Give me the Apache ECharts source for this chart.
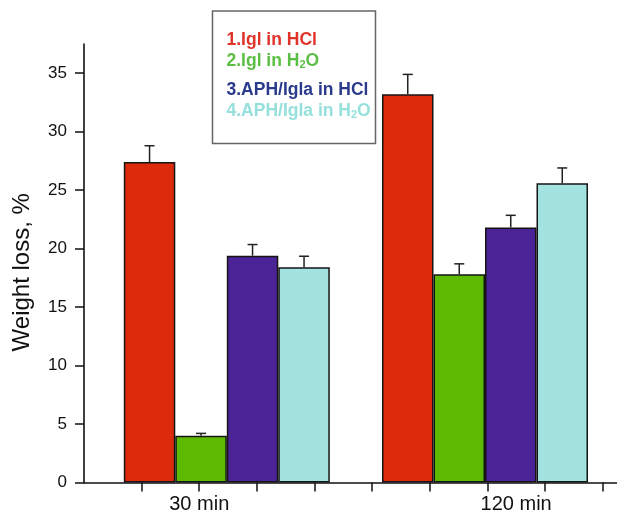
<!DOCTYPE html>
<html>
<head>
<meta charset="utf-8">
<script src="https://cdn.jsdelivr.net/npm/echarts@6/dist/echarts.min.js"></script>
<style>
html,body{margin:0;padding:0;background:#fff;}
#chart{width:617px;height:515px;}
</style>
</head>
<body>
<div id="chart"></div>
<script>
// ---- data ----
var categories = ['30 min', '120 min'];
var seriesNames = ['1.Igl in HCl', '2.Igl in H2O', '3.APH/Igla in HCl', '4.APH/Igla in H2O'];
var iglHCl = [27.4, 33.2];
var iglHCl_err = [1.4, 1.7];
var iglH2O = [4.0, 17.8];
var iglH2O_err = [0.2, 0.9];
var aphHCl = [19.4, 21.8];
var aphHCl_err = [0.95, 1.05];
var aphH2O = [18.4, 25.6];
var aphH2O_err = [0.95, 1.3];
var yMajorTicks = [0, 5, 10, 15, 20, 25, 30, 35];
var yMinorTicks = [2.5, 7.5, 12.5, 17.5, 22.5, 27.5, 32.5, 37.5];
var xTicks = [1, 2, 3, 4, 5, 6, 7, 8, 9];
var xLabelPos = [2, 7.5];

// ---- styles ----
var FONT = "'Liberation Sans', Arial, Helvetica, sans-serif";
var barColors = ['#dd2a0c', '#5eba00', '#4a2396', '#a2e3e0'];
var legendColors = ['#e0332a', '#5cbf45', '#2a3a8c', '#95e0dc'];
var BAR_W = 51.5;
var AXIS_COLOR = '#111';

var values = [iglHCl, iglH2O, aphHCl, aphH2O];
var errors = [iglHCl_err, iglH2O_err, aphHCl_err, aphH2O_err];

function legendLabel(name) {
  if (name.indexOf('H2O') >= 0) {
    var parts = name.split('H2O');
    return '{a|' + parts[0] + 'H}{s|2}{a|O}';
  }
  return '{a|' + name + '}';
}

var series = [];
values.forEach(function (vals, i) {
  series.push({
    name: seriesNames[i],
    type: 'bar',
    xAxisIndex: 1,
    yAxisIndex: 2,
    data: vals,
    barWidth: BAR_W,
    barGap: '0%',
    itemStyle: { color: barColors[i], borderColor: '#151515', borderWidth: 1.5 },
    z: 2
  });
});
values.forEach(function (vals, i) {
  series.push({
    type: 'custom',
    xAxisIndex: 1,
    yAxisIndex: 2,
    z: 3,
    silent: true,
    data: vals.map(function (v, k) { return [k, v, errors[i][k]]; }),
    renderItem: function (params, api) {
      var ci = api.value(0), v = api.value(1), e = api.value(2);
      var p = api.coord([ci, v]);
      var t = api.coord([ci, v + e]);
      var x = p[0] + (i - 1.5) * BAR_W;
      var st = { stroke: '#222', lineWidth: 1.5 };
      return {
        type: 'group',
        children: [
          { type: 'line', shape: { x1: x, y1: p[1], x2: x, y2: t[1] }, style: st },
          { type: 'line', shape: { x1: x - 5, y1: t[1], x2: x + 5, y2: t[1] }, style: st }
        ]
      };
    }
  });
});

var richStyle = {
  a: { fontSize: 17.5, fontWeight: 'bold', fontFamily: FONT },
  s: { fontSize: 11, fontWeight: 'bold', fontFamily: FONT, verticalAlign: 'bottom', padding: [8, 0, 0, 0] }
};

function makeLegend(idxs, top) {
  return {
    orient: 'vertical',
    left: 221.5,
    top: top,
    padding: 0,
    itemGap: 2.5,
    itemWidth: 0,
    itemHeight: 10,
    icon: 'none',
    selectedMode: false,
    formatter: legendLabel,
    textStyle: { lineHeight: 18, rich: richStyle },
    data: idxs.map(function (i) {
      return { name: seriesNames[i], icon: 'none', textStyle: { color: legendColors[i] } };
    })
  };
}

var option = {
  backgroundColor: '#fff',
  animation: false,
  textStyle: { fontFamily: FONT },
  legend: [makeLegend([0, 1], 31.5), makeLegend([2, 3], 81.5)],
  graphic: [{
    type: 'rect',
    shape: { x: 212.5, y: 11, width: 163, height: 132.5 },
    style: { fill: 'none', stroke: '#666', lineWidth: 1.5 },
    z: 10
  }],
  grid: [
    { left: 84, right: 0, top: 44, bottom: 32.5 },
    { left: 97.7, right: 2.9, top: 44, bottom: 32.5 }
  ],
  xAxis: [
    {
      type: 'value', gridIndex: 0, min: 0, max: 9.25,
      axisLine: { show: true, lineStyle: { color: AXIS_COLOR, width: 1.6 } },
      axisTick: { show: true, length: 9, customValues: xTicks, lineStyle: { color: AXIS_COLOR, width: 1.5 } },
      axisLabel: {
        show: true, customValues: xLabelPos, margin: 12, fontSize: 20, color: '#111', fontFamily: FONT,
        formatter: function (v) { return v < 5 ? categories[0] : categories[1]; }
      },
      splitLine: { show: false }
    },
    {
      type: 'category', gridIndex: 1, data: categories, show: false
    }
  ],
  yAxis: [
    {
      type: 'value', gridIndex: 0, min: 0, max: 37.5,
      name: 'Weight loss, %', nameLocation: 'middle', nameGap: 50,
      nameTextStyle: { fontSize: 24, color: '#111', fontFamily: FONT, padding: [0, 18, 0, 0] },
      axisLine: { show: true, lineStyle: { color: AXIS_COLOR, width: 1.6 } },
      axisTick: { show: true, length: 9, customValues: yMajorTicks, lineStyle: { color: AXIS_COLOR, width: 1.5 } },
      axisLabel: { show: true, customValues: yMajorTicks, margin: 17, fontSize: 17, color: '#111', fontFamily: FONT },
      splitLine: { show: false }
    },
    {
      type: 'value', gridIndex: 0, min: 0, max: 37.5,
      axisLine: { show: false },
      axisTick: { show: true, length: 5, customValues: yMinorTicks, lineStyle: { color: AXIS_COLOR, width: 1.5 } },
      axisLabel: { show: false },
      splitLine: { show: false }
    },
    {
      type: 'value', gridIndex: 1, min: 0, max: 37.5, show: false
    }
  ],
  series: series
};

var chart = echarts.init(document.getElementById('chart'), null, { renderer: 'canvas' });
chart.setOption(option);
</script>
</body>
</html>
